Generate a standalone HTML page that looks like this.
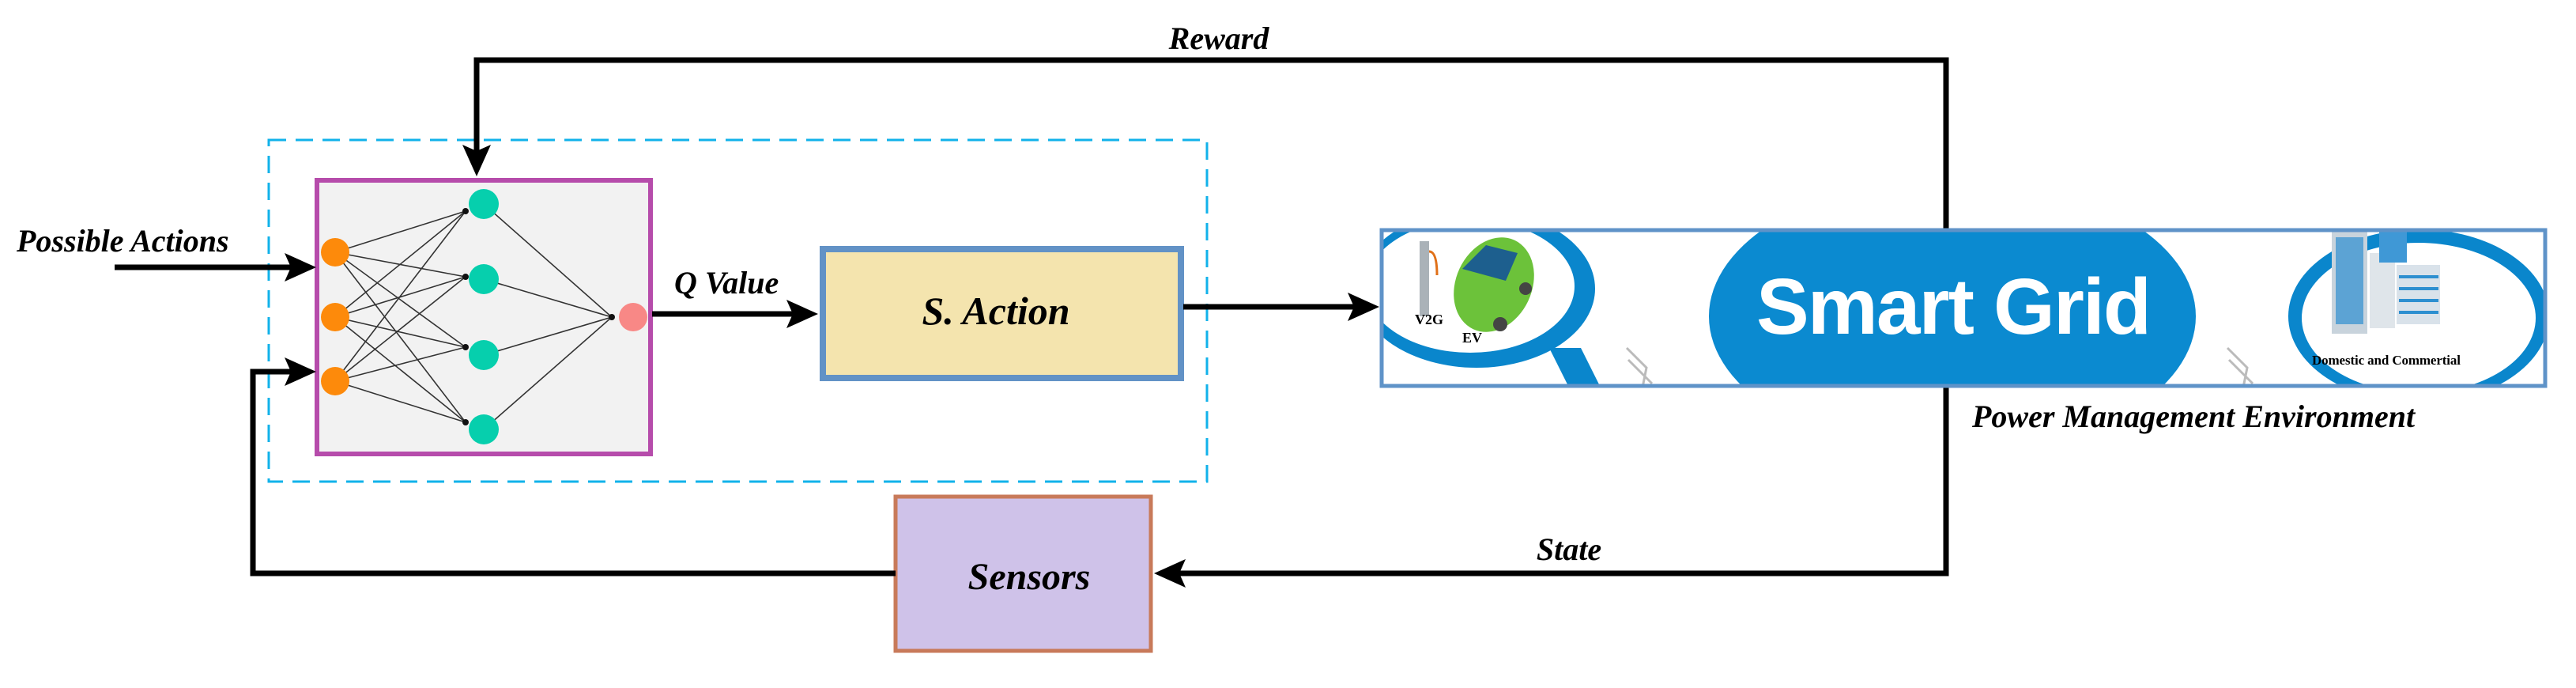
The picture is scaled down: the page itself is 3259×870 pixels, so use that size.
<!DOCTYPE html>
<html><head><meta charset="utf-8"><style>
html,body{margin:0;padding:0;background:#fff}
svg{display:block}
.lbl{font-family:"Liberation Serif",serif;font-style:italic;font-weight:bold;fill:#000}
</style></head><body>
<svg width="3259" height="870" viewBox="0 0 3259 870" xmlns="http://www.w3.org/2000/svg">
<defs>
<clipPath id="sg"><rect x="1750" y="292" width="1469" height="195"/></clipPath>
</defs>

<rect x="340" y="177" width="1187" height="432" fill="none" stroke="#11b2ea" stroke-width="3" stroke-dasharray="22,12"/>

<rect x="401" y="228" width="422" height="346" fill="#f2f2f2" stroke="#b64cab" stroke-width="6"/>
<g stroke="#333" stroke-width="1.6">
<line x1="424" y1="319" x2="589" y2="267"/><line x1="424" y1="319" x2="589" y2="350"/><line x1="424" y1="319" x2="589" y2="439"/><line x1="424" y1="319" x2="589" y2="534"/>
<line x1="424" y1="401" x2="589" y2="267"/><line x1="424" y1="401" x2="589" y2="350"/><line x1="424" y1="401" x2="589" y2="439"/><line x1="424" y1="401" x2="589" y2="534"/>
<line x1="424" y1="482" x2="589" y2="267"/><line x1="424" y1="482" x2="589" y2="350"/><line x1="424" y1="482" x2="589" y2="439"/><line x1="424" y1="482" x2="589" y2="534"/>
<line x1="612" y1="258" x2="774" y2="401"/><line x1="612" y1="353" x2="774" y2="401"/><line x1="612" y1="449" x2="774" y2="401"/><line x1="612" y1="543" x2="774" y2="401"/>
</g>
<g fill="#111"><circle cx="589" cy="267" r="4"/><circle cx="589" cy="350" r="4"/><circle cx="589" cy="439" r="4"/><circle cx="589" cy="534" r="4"/><circle cx="774" cy="401" r="4"/></g>
<g fill="#fd8a0b"><circle cx="424" cy="319" r="18"/><circle cx="424" cy="401" r="18"/><circle cx="424" cy="482" r="18"/></g>
<g fill="#06cfad"><circle cx="612" cy="258" r="19"/><circle cx="612" cy="353" r="19"/><circle cx="612" cy="449" r="19"/><circle cx="612" cy="543" r="19"/></g>
<circle cx="801" cy="401" r="18" fill="#f88886"/>

<rect x="1041" y="315" width="453" height="163" fill="#f4e4ae" stroke="#6292c6" stroke-width="8"/>
<text class="lbl" x="1260" y="410" font-size="50" text-anchor="middle">S. Action</text>

<rect x="1133" y="628" width="323" height="195" fill="#cfc2e9" stroke="#c87a5a" stroke-width="5"/>
<text class="lbl" x="1302" y="745" font-size="48" text-anchor="middle">Sensors</text>

<g stroke="#000" stroke-width="7" fill="none">
<polyline points="145,338 370,338"/>
<polyline points="825,397 1005,397"/>
<polyline points="1497,388 1715,388"/>
<polyline points="603,195 603,76 2462,76 2462,290"/>
<polyline points="2462,490 2462,725 1490,725"/>
<polyline points="1133,725 320,725 320,470 370,470"/>
</g>
<g fill="#000">
<polygon points="400,338 360,320 368,338 360,356"/>
<polygon points="1035,397 995,379 1003,397 995,415"/>
<polygon points="1745,388 1705,370 1713,388 1705,406"/>
<polygon points="603,223 585,183 603,191 621,183"/>
<polygon points="1460,725 1500,707 1492,725 1500,743"/>
<polygon points="400,470 360,452 368,470 360,488"/>
</g>

<text class="lbl" x="21" y="318" font-size="40">Possible Actions</text>
<text class="lbl" x="853" y="371" font-size="40">Q Value</text>
<text class="lbl" x="1542" y="62" font-size="40" text-anchor="middle">Reward</text>
<text class="lbl" x="1985" y="708" font-size="40" text-anchor="middle">State</text>
<text class="lbl" x="2495" y="540" font-size="40">Power Management Environment</text>

<rect x="1748" y="291" width="1472" height="197" fill="#fff"/>
<g clip-path="url(#sg)">
<polygon points="1960,440 2000,440 2030,500 1990,500" fill="#0a86cc"/>
<ellipse cx="1868" cy="365" rx="150" ry="100" fill="#0a86cc"/>
<ellipse cx="1860" cy="362" rx="132" ry="84" fill="#fff"/>
<ellipse cx="2470" cy="400" rx="308" ry="175" fill="#0b8ad0"/>
<ellipse cx="3060" cy="400" rx="165" ry="110" fill="#0a86cc"/>
<ellipse cx="3060" cy="402" rx="148" ry="95" fill="#fff"/>
<rect x="1796" y="305" width="12" height="95" fill="#aab2b8"/>
<path d="M1808,318 q10,0 10,30" stroke="#e07018" stroke-width="3" fill="none"/>
<ellipse cx="1890" cy="360" rx="48" ry="62" fill="#6cc23a" transform="rotate(25 1890 360)"/>
<path d="M1850,340 l30,-30 l40,10 l-15,35 z" fill="#1d5f8e"/>
<circle cx="1930" cy="365" r="8" fill="#444"/><circle cx="1898" cy="410" r="9" fill="#444"/>
<text x="1790" y="410" font-family="Liberation Serif,serif" font-weight="bold" font-size="18">V2G</text>
<text x="1850" y="433" font-family="Liberation Serif,serif" font-weight="bold" font-size="18">EV</text>
<path d="M2058,440 l25,25 l-5,25 M2060,455 l30,30" stroke="#bbb" stroke-width="3" fill="none"/>
<path d="M2818,440 l25,25 l-5,25 M2820,455 l30,30" stroke="#bbb" stroke-width="3" fill="none"/>
<rect x="2950" y="292" width="45" height="130" fill="#c8d3dc"/>
<rect x="2955" y="300" width="35" height="110" fill="#2d8fd0" opacity="0.7"/>
<rect x="2998" y="320" width="32" height="95" fill="#dfe5ea"/>
<rect x="3010" y="292" width="35" height="40" fill="#3f98d6"/>
<rect x="3032" y="335" width="55" height="75" fill="#d9e2ea"/>
<g stroke="#2d8fd0" stroke-width="4"><line x1="3035" y1="350" x2="3085" y2="350"/><line x1="3035" y1="365" x2="3085" y2="365"/><line x1="3035" y1="380" x2="3085" y2="380"/><line x1="3035" y1="395" x2="3085" y2="395"/></g>
<text x="2925" y="461" font-family="Liberation Serif,serif" font-weight="bold" font-size="17" textLength="188">Domestic and Commertial</text>
</g>
<text x="2472" y="422" font-family="Liberation Sans,sans-serif" font-weight="bold" font-size="100" fill="#fff" text-anchor="middle" textLength="500">Smart Grid</text>
<rect x="1748" y="291" width="1472" height="197" fill="none" stroke="#5f93c8" stroke-width="5"/>
</svg>
</body></html>
